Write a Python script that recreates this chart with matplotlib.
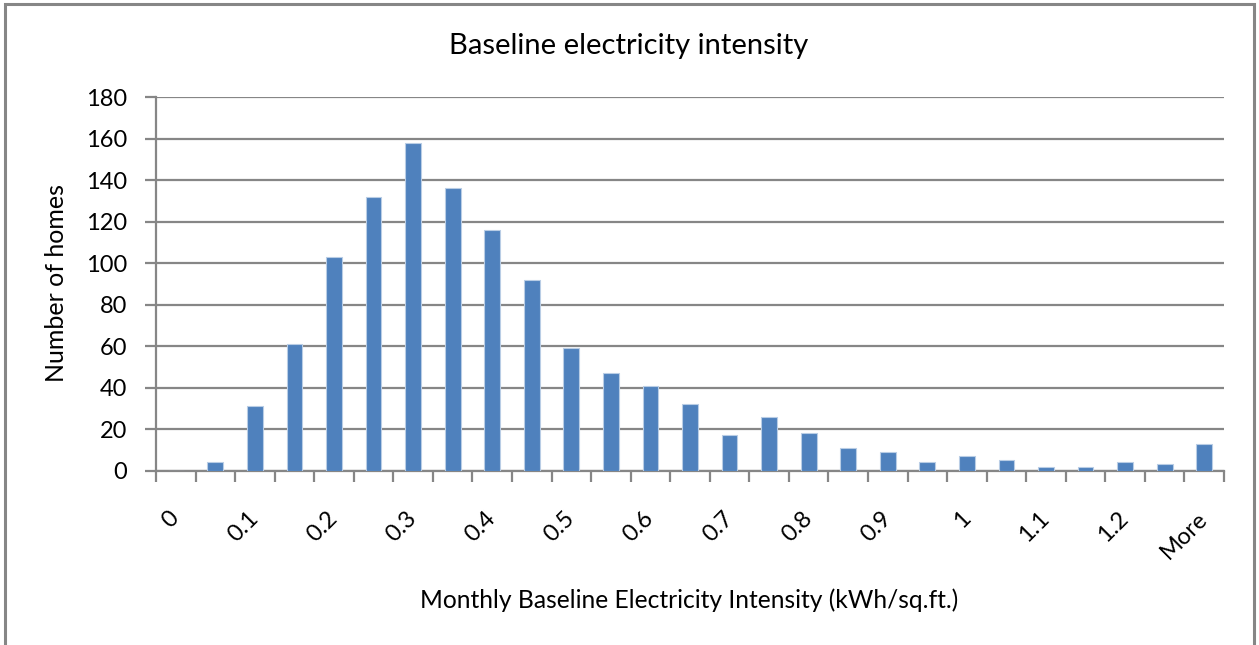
import matplotlib.pyplot as plt
from matplotlib.patches import Rectangle

# histogram bins (kWh/sq.ft.) and counts
bins = ['0', '0.05', '0.1', '0.15', '0.2', '0.25', '0.3', '0.35', '0.4', '0.45',
        '0.5', '0.55', '0.6', '0.65', '0.7', '0.75', '0.8', '0.85', '0.9', '0.95',
        '1', '1.05', '1.1', '1.15', '1.2', '1.25', 'More']
counts = [0, 4, 31, 61, 103, 132, 158, 136, 116, 92, 59, 47, 41, 32, 17, 26,
          18, 11, 9, 4, 7, 5, 2, 2, 4, 3, 13]
yticks = [0, 20, 40, 60, 80, 100, 120, 140, 160, 180]

plt.rcParams['font.family'] = ['Lato', 'DejaVu Sans']
grey = '#868686'

fig = plt.figure(figsize=(12.59, 6.45), dpi=100)
ax = fig.add_axes([0.1239, 0.2702, 0.8483, 0.5794])

x = list(range(len(bins)))
ax.bar(x, counts, width=0.4, color='#4F81BD', edgecolor='#B9CDE5', linewidth=0.8, zorder=3)

ax.set_xlim(-0.5, len(bins) - 0.5)
ax.set_ylim(0, 180)
ax.set_yticks(yticks)
ax.yaxis.grid(True, color=grey, linewidth=1.6, zorder=0)

# labels on every other category, tick marks between categories
ax.set_xticks(x[::2])
ax.set_xticklabels(bins[::2], rotation=45, ha='right', va='center', rotation_mode='anchor')
ax.set_xticks([i - 0.5 for i in range(len(bins) + 1)], minor=True)
ax.tick_params(axis='x', which='major', length=0, pad=32, labelsize=17)
ax.tick_params(axis='x', which='minor', length=8, width=1.6, color=grey)
ax.tick_params(axis='y', length=8, width=1.6, color=grey, pad=13, labelsize=17)

for s in ['top', 'right']:
    ax.spines[s].set_visible(False)
for s in ['left', 'bottom']:
    ax.spines[s].set_color(grey)
    ax.spines[s].set_linewidth(1.6)

fig.text(0.4996, 0.928, 'Baseline electricity intensity', ha='center', va='center', fontsize=21)
fig.text(0.5477, 0.069, 'Monthly Baseline Electricity Intensity (kWh/sq.ft.)', ha='center', va='center', fontsize=17.7)
fig.text(0.045, 0.5605, 'Number of homes', ha='center', va='center', rotation=90, fontsize=18)

fig.patches.append(Rectangle((4.5 / 1259, -0.05), 1249 / 1259, 1.05 - 4.5 / 645, transform=fig.transFigure,
                             fill=False, edgecolor=grey, linewidth=2.2))

fig.savefig('out.png', dpi=100)
